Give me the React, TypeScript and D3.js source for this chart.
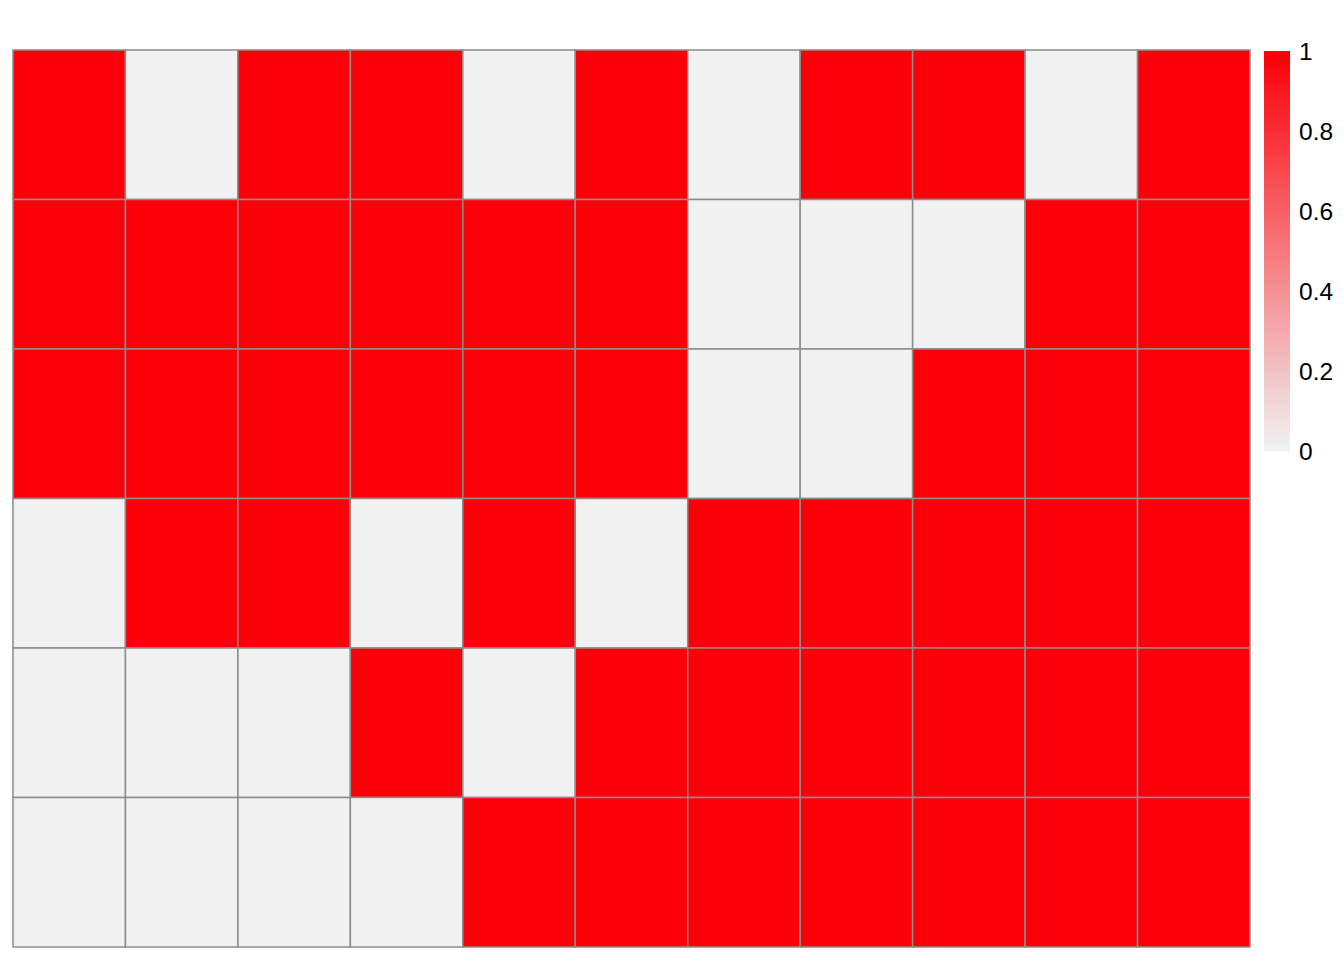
import React from "react";
import * as d3 from "d3";

const rowNames = ["r1", "r2", "r3", "r4", "r5", "r6"];
const colNames = ["c1", "c2", "c3", "c4", "c5", "c6", "c7", "c8", "c9", "c10", "c11"];
const values = [
  [1, 0, 1, 1, 0, 1, 0, 1, 1, 0, 1],
  [1, 1, 1, 1, 1, 1, 0, 0, 0, 1, 1],
  [1, 1, 1, 1, 1, 1, 0, 0, 1, 1, 1],
  [0, 1, 1, 0, 1, 0, 1, 1, 1, 1, 1],
  [0, 0, 0, 1, 0, 1, 1, 1, 1, 1, 1],
  [0, 0, 0, 0, 1, 1, 1, 1, 1, 1, 1],
];
const legendTicks = [0, 0.2, 0.4, 0.6, 0.8, 1];

export default function App() {
  const width = 1344;
  const height = 960;
  const grid = { left: 13, top: 50, right: 1250, bottom: 947 };

  const x = d3.scaleBand().domain(colNames).range([grid.left, grid.right]);
  const y = d3.scaleBand().domain(rowNames).range([grid.top, grid.bottom]);
  const color = d3
    .scaleLinear<string>()
    .domain([0, 1])
    .range(["#f1f1f1", "#fb0008"])
    .interpolate(d3.interpolateRgb);

  // legend bar
  const legend = { x: 1264, w: 26, top: 51, bottom: 451 };
  const ly = d3.scaleLinear().domain([0, 1]).range([legend.bottom, legend.top]);
  const steps = d3.range(0, 50);
  const stepH = (legend.bottom - legend.top) / steps.length;

  return (
    <svg
      width={width}
      height={height}
      style={{ position: "absolute", left: 0, top: 0, background: "white" }}
    >
      {values.map((row, i) =>
        row.map((v, j) => (
          <rect
            key={`${i}-${j}`}
            x={x(colNames[j])}
            y={y(rowNames[i])}
            width={x.bandwidth()}
            height={y.bandwidth()}
            fill={color(v)}
            stroke="#8c8c8c"
            strokeWidth={1.5}
          />
        ))
      )}
      <g>
        {steps.map((s) => (
          <rect
            key={s}
            x={legend.x}
            y={legend.bottom - (s + 1) * stepH}
            width={legend.w}
            height={stepH + 0.5}
            fill={color(s / (steps.length - 1))}
          />
        ))}
        {legendTicks.map((t) => (
          <text
            key={t}
            x={1299}
            y={ly(t)}
            dy="0.36em"
            fontFamily="Liberation Sans, Arial, sans-serif"
            fontSize={24.5}
            fill="#000"
          >
            {t === 0 ? "0" : t === 1 ? "1" : t.toString()}
          </text>
        ))}
      </g>
    </svg>
  );
}
